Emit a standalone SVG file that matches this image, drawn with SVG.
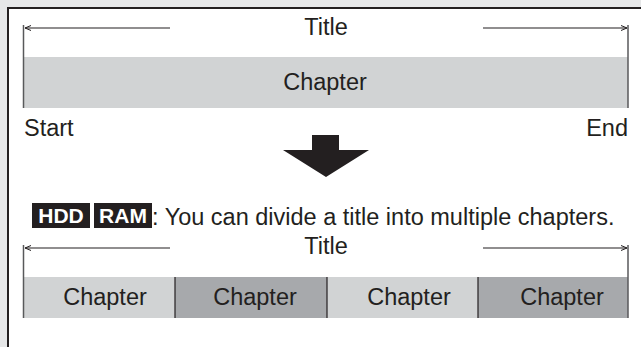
<svg xmlns="http://www.w3.org/2000/svg" width="641" height="347" viewBox="0 0 641 347">
<style>
text{font-family:"Liberation Sans",Arial,sans-serif;fill:#231f20;font-size:23.5px}
.c{text-anchor:middle}
.r{text-anchor:end}
.tag{font-weight:bold;fill:#fff;font-size:21px;text-anchor:middle}
.dim{stroke:#231f20;stroke-width:1.2;fill:none}
.edge{stroke:#58595b;stroke-width:1.5;fill:none}
.light{fill:#d1d3d4}
.dark{fill:#a7a9ac}
.div{stroke:#231f20;stroke-width:1.2}
</style>
<defs>
<marker id="tick" viewBox="0 0 8 8" refX="7" refY="4" markerWidth="8" markerHeight="8" markerUnits="userSpaceOnUse" orient="auto-start-reverse">
<path d="M1,1.5 L7,4 L1,6.5" fill="none" stroke="#231f20" stroke-width="1"/>
</marker>
</defs>
<rect x="0" y="0" width="641" height="347" fill="#e6e7e8"/>
<rect x="8" y="8" width="650" height="360" fill="#fff" stroke="#231f20" stroke-width="2"/>

<g id="before">
<rect class="light" x="24" y="57" width="604" height="51"/>
<text class="c" x="326" y="35">Title</text>
<text class="c" x="325" y="90">Chapter</text>
<text x="24" y="136">Start</text>
<text class="r" x="628" y="136">End</text>
</g>

<g id="down-arrow">
<path d="M312,135 H339 V150 H369 L326,177 L283,150 H312 Z" fill="#231f20"/>
</g>

<g id="note">
<rect x="32" y="203" width="58" height="25" fill="#231f20"/>
<text class="tag" x="61" y="223">HDD</text>
<rect x="94" y="203" width="58" height="25" fill="#231f20"/>
<text class="tag" x="123" y="223">RAM</text>
<text x="152" y="225">: You can divide a title into multiple chapters.</text>
</g>

<g id="after">
<rect class="light" x="24" y="277" width="151" height="41"/>
<rect class="dark" x="175" y="277" width="152" height="41"/>
<rect class="light" x="327" y="277" width="151" height="41"/>
<rect class="dark" x="478" y="277" width="150" height="41"/>
<text class="c" x="326" y="254">Title</text>
<text class="c" x="105" y="305">Chapter</text>
<text class="c" x="255" y="305">Chapter</text>
<text class="c" x="409" y="305">Chapter</text>
<text class="c" x="562" y="305">Chapter</text>
</g>

<g id="connectors">
<line class="edge" x1="23.5" y1="25" x2="23.5" y2="108"/>
<line class="edge" x1="628" y1="25" x2="628" y2="108"/>
<line class="dim" x1="170" y1="28" x2="25" y2="28" marker-end="url(#tick)"/>
<line class="dim" x1="483" y1="28" x2="627" y2="28" marker-end="url(#tick)"/>
<line class="edge" x1="23.5" y1="245" x2="23.5" y2="318"/>
<line class="edge" x1="628" y1="245" x2="628" y2="318"/>
<line class="dim" x1="170" y1="248" x2="25" y2="248" marker-end="url(#tick)"/>
<line class="dim" x1="483" y1="248" x2="627" y2="248" marker-end="url(#tick)"/>
<line class="div" x1="175" y1="277" x2="175" y2="318"/>
<line class="div" x1="327" y1="277" x2="327" y2="318"/>
<line class="div" x1="478" y1="277" x2="478" y2="318"/>
</g>
</svg>
